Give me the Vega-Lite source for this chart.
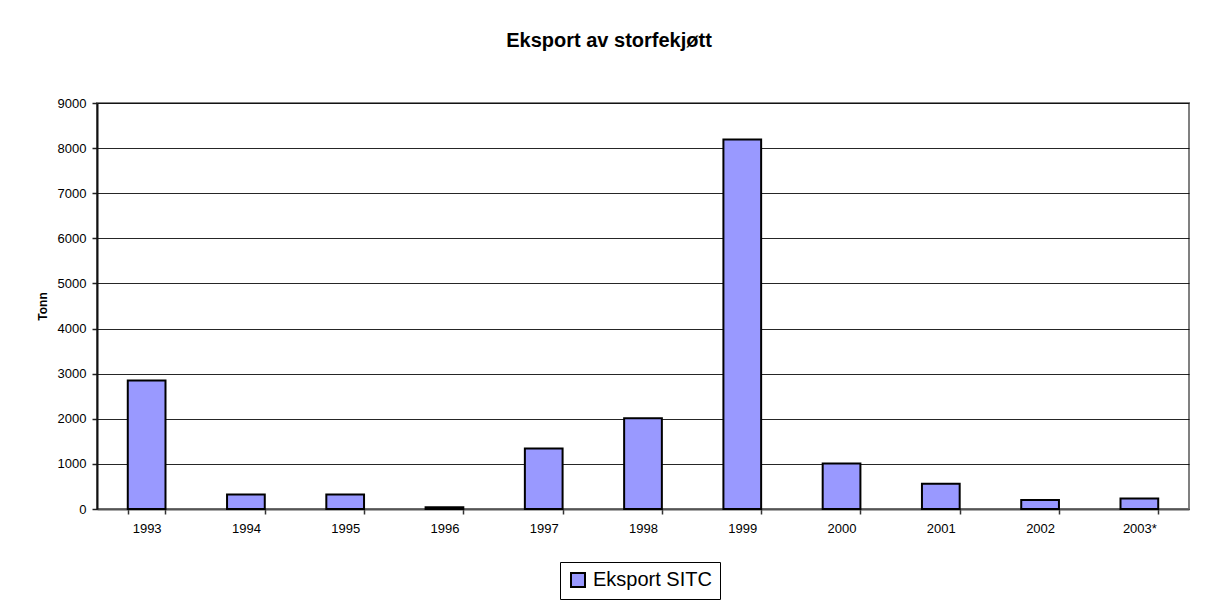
{
  "$schema": "https://vega.github.io/schema/vega-lite/v6.json",
  "autosize": "none",
  "width": 1092,
  "height": 406,
  "padding": {"left": 97, "top": 103, "right": 19, "bottom": 94},
  "background": "white",
  "title": {
    "text": "Eksport av storfekjøtt",
    "font": "Liberation Sans",
    "fontSize": 20,
    "fontWeight": "bold",
    "color": "black",
    "anchor": "middle",
    "baseline": "alphabetic",
    "offset": 30,
    "dx": -34
  },
  "data": {
    "values": [
      {"year": "1993", "tonn": 2850, "serie": "Eksport SITC"},
      {"year": "1994", "tonn": 320, "serie": "Eksport SITC"},
      {"year": "1995", "tonn": 320, "serie": "Eksport SITC"},
      {"year": "1996", "tonn": 40, "serie": "Eksport SITC"},
      {"year": "1997", "tonn": 1340, "serie": "Eksport SITC"},
      {"year": "1998", "tonn": 2010, "serie": "Eksport SITC"},
      {"year": "1999", "tonn": 8190, "serie": "Eksport SITC"},
      {"year": "2000", "tonn": 1010, "serie": "Eksport SITC"},
      {"year": "2001", "tonn": 560, "serie": "Eksport SITC"},
      {"year": "2002", "tonn": 200, "serie": "Eksport SITC"},
      {"year": "2003*", "tonn": 230, "serie": "Eksport SITC"}
    ]
  },
  "mark": {"type": "bar", "stroke": "black", "strokeWidth": 2},
  "encoding": {
    "x": {
      "field": "year",
      "type": "nominal",
      "sort": null,
      "scale": {"paddingInner": 0.62, "paddingOuter": 0.31},
      "axis": {
        "title": null,
        "labelAngle": 0,
        "tickBand": "extent",
        "tickSize": 5,
        "tickColor": "#333333",
        "tickWidth": 1.5,
        "labelPadding": 8,
        "labelFontSize": 13,
        "domainColor": "#555555",
        "domainWidth": 2,
        "grid": false
      }
    },
    "y": {
      "field": "tonn",
      "type": "quantitative",
      "scale": {"domain": [0, 9000], "nice": false},
      "axis": {
        "title": "Tonn",
        "titleFont": "Liberation Sans",
        "titleFontSize": 12,
        "titleFontWeight": "bold",
        "titleColor": "black",
        "titlePadding": 8,
        "values": [0, 1000, 2000, 3000, 4000, 5000, 6000, 7000, 8000, 9000],
        "format": "d",
        "labelFontSize": 13,
        "labelPadding": 6,
        "tickSize": 5,
        "tickColor": "#222222",
        "tickWidth": 1.5,
        "domainColor": "#111111",
        "domainWidth": 2,
        "grid": true,
        "gridColor": "black",
        "gridWidth": 1,
        "gridOpacity": 0.85
      }
    },
    "color": {
      "field": "serie",
      "type": "nominal",
      "scale": {"range": ["#9999FF"]},
      "legend": {
        "title": null,
        "orient": "none",
        "legendX": 463,
        "legendY": 459,
        "direction": "horizontal",
        "symbolType": "square",
        "symbolSize": 196,
        "symbolStrokeColor": "black",
        "symbolStrokeWidth": 2,
        "symbolOpacity": 1,
        "labelFont": "Liberation Sans",
        "labelFontSize": 20,
        "labelColor": "black",
        "labelOffset": 5,
        "padding": 8,
        "strokeColor": "black",
        "fillColor": "white"
      }
    }
  },
  "config": {
    "font": "Liberation Sans",
    "view": {"stroke": "#808080", "strokeWidth": 2},
    "axis": {
      "labelFont": "Liberation Sans",
      "labelColor": "black"
    }
  }
}
